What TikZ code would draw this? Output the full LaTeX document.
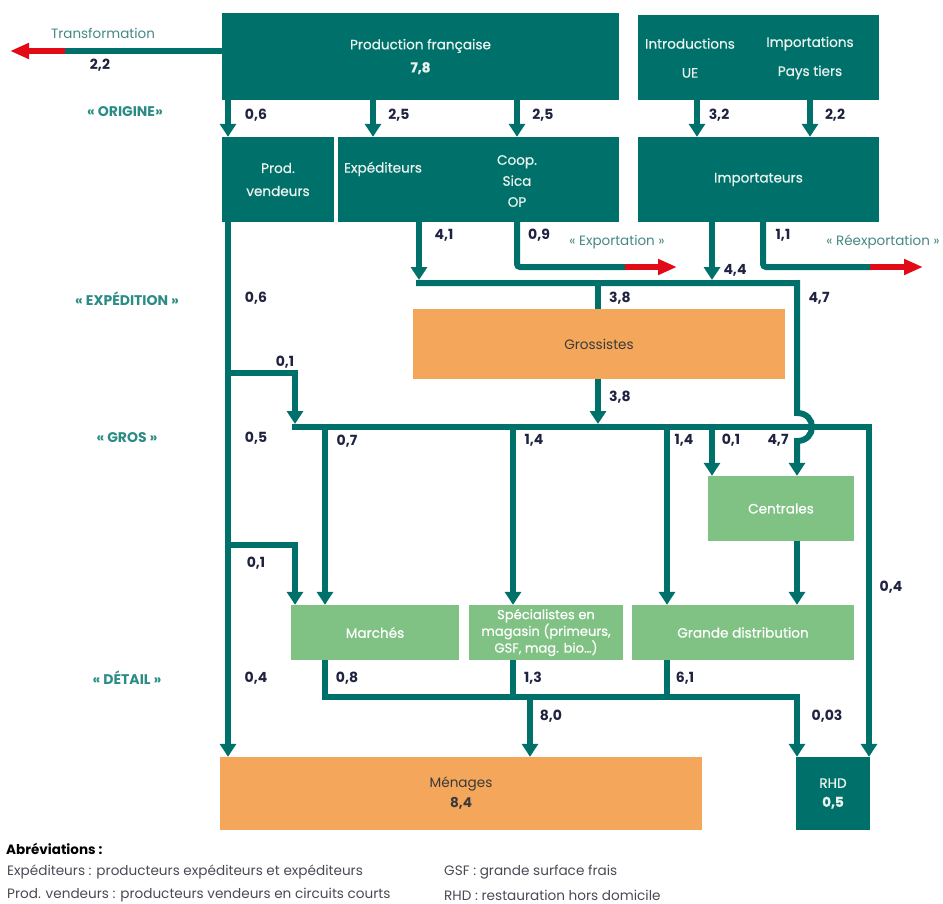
\documentclass[tikz,border=0pt]{standalone}
\usepackage{fontspec}
\setmainfont{Poppins}
\newfontfamily\pmed{Poppins}[FakeBold=0.6]
\usetikzlibrary{arrows.meta}
\definecolor{tealA}{HTML}{00716A}
\definecolor{lgreen}{HTML}{80C184}
\definecolor{orangeA}{HTML}{F4A65A}
\definecolor{redA}{HTML}{E30A17}
\definecolor{navyA}{HTML}{1F2340}
\definecolor{secteal}{HTML}{2B8C86}
\definecolor{boxtxt}{HTML}{EAF2EE}
\definecolor{darktxt}{HTML}{3A3A3A}
\definecolor{legtxt}{HTML}{4A4A55}
\begin{document}
\begin{tikzpicture}[x=1pt,y=-1pt,
  box/.style={rectangle, inner sep=0pt, draw=none, align=center},
  dk/.style={box, fill=tealA, text=boxtxt, font=\pmed\fontsize{13.6}{23}\selectfont},
  lg/.style={box, fill=lgreen, text=white, font=\pmed\fontsize{13.6}{15}\selectfont},
  og/.style={box, fill=orangeA, text=darktxt, font=\fontsize{13.6}{20}\selectfont},
  boxlab/.style={inner sep=0pt, align=center, text=boxtxt, font=\pmed\fontsize{13.6}{21}\selectfont},
  flow/.style={draw=tealA, line width=6pt},
  arr/.style={flow, -{Triangle[width=16pt,length=13pt]}},
  arrl/.style={arr, shorten >=3pt},
  redarr/.style={draw=redA, line width=6pt, -{Triangle[width=15pt,length=19pt]}},
  val/.style={inner sep=0pt, text=navyA, font=\bfseries\fontsize{14}{15}\selectfont},
  sec/.style={inner sep=0pt, text=secteal, font=\bfseries\fontsize{14}{15}\selectfont},
  note/.style={inner sep=0pt, text=secteal!70!gray, font=\fontsize{13.5}{15}\selectfont},
  leg/.style={inner sep=0pt, anchor=west, text=legtxt, font=\fontsize{13.6}{15}\selectfont},
]
\useasboundingbox (0,0) rectangle (943,903);

% ---------- boxes ----------
\node[dk, minimum width=397pt, minimum height=87pt] (prod) at (420.5,56.5) {Production française\\\textbf{7,8}};
\node[dk, minimum width=241pt, minimum height=85pt] (imp) at (758.5,57.5) {};
\node[boxlab, font=\pmed\fontsize{13.6}{29}\selectfont] (impUE) at (690,58) {Introductions\\UE};
\node[boxlab, font=\pmed\fontsize{13.6}{29}\selectfont] (impPT) at (810,58) {Importations\\Pays tiers};
\node[dk, minimum width=112pt, minimum height=85pt] (pv) at (278,179.5) {Prod.\\vendeurs};
\node[dk, minimum width=281pt, minimum height=85pt] (exp) at (478.5,179.5) {};
\node[boxlab] (expT) at (383,169) {Expéditeurs};
\node[boxlab] (coop) at (517,181) {Coop.\\Sica\\OP};
\node[dk, minimum width=241pt, minimum height=85pt] (impt) at (758.5,179.5) {Importateurs};
\node[og, minimum width=372pt, minimum height=70pt] (gross) at (599,344) {Grossistes};
\node[lg, minimum width=146pt, minimum height=65pt] (cent) at (781,508.5) {Centrales};
\node[lg, minimum width=168pt, minimum height=55pt] (march) at (375,632.5) {Marchés};
\node[lg, minimum width=154pt, minimum height=55pt, font=\pmed\fontsize{13.1}{14.5}\selectfont] (spec) at (546,632.5) {Spécialistes en\\magasin (primeurs,\\GSF, mag. bio…)};
\node[lg, minimum width=222pt, minimum height=55pt] (gd) at (743,632.5) {Grande distribution};
\node[og, minimum width=482pt, minimum height=73pt] (men) at (461,793.5) {Ménages\\\textbf{8,4}};
\node[dk, minimum width=74pt, minimum height=73pt, font=\pmed\fontsize{13.6}{19}\selectfont] (rhd) at (833,793.5) {RHD\\\textbf{0,5}};

% ---------- columns / rows ----------
\coordinate (cA) at (228,0);
\coordinate (cB) at (373,0);
\coordinate (cC) at (517,0);
\coordinate (cD) at (697,0);
\coordinate (cE) at (810,0);
\coordinate (cF) at (419,0);
\coordinate (cG) at (712,0);
\coordinate (cH) at (763,0);
\coordinate (cI) at (598,0);
\coordinate (cJ) at (797,0);
\coordinate (cK) at (295,0);
\coordinate (cL) at (325,0);
\coordinate (cM) at (513,0);
\coordinate (cN) at (667,0);
\coordinate (cO) at (869,0);
\coordinate (cP) at (530,0);
\coordinate (rX) at (0,267);
\coordinate (rExp) at (0,283);
\coordinate (r373) at (0,373);
\coordinate (rGros) at (0,427);
\coordinate (r545) at (0,545);
\coordinate (rBot) at (0,697);
\coordinate (trA) at (65,51);
\coordinate (trB) at (10,51);
\coordinate (xr1) at (625,267);
\coordinate (xr2) at (677,267);
\coordinate (xr3) at (870,267);
\coordinate (xr4) at (923,267);
\coordinate (e0) at (416,283);
\coordinate (g0) at (292,427);
\coordinate (b1) at (797,413);
\coordinate (b1c) at (817,413);
\coordinate (b2c) at (817,441);
\coordinate (b2) at (797,441);

% ---------- connectors ----------
% transformation
\draw[flow] ([yshift=5.5pt]prod.west) -- ([xshift=-1pt]trA);
\draw[redarr] (trA) -- (trB);
% origine
\draw[arr] (prod.south -| cA) -- (pv.north -| cA);
\draw[arr] (prod.south -| cB) -- (exp.north -| cB);
\draw[arr] (prod.south -| cC) -- (exp.north -| cC);
\draw[arr] (imp.south -| cD) -- (impt.north -| cD);
\draw[arr] (imp.south -| cE) -- (impt.north -| cE);
% exportations
\draw[flow, rounded corners=3pt] (exp.south -| cC) -- (cC |- rX) -- ([xshift=1pt]xr1);
\draw[redarr] (xr1) -- (xr2);
\draw[flow, rounded corners=3pt] (impt.south -| cH) -- (cH |- rX) -- ([xshift=1pt]xr3);
\draw[redarr] (xr3) -- (xr4);
% expedition line
\draw[arrl] (exp.south -| cF) -- (cF |- rExp);
\draw[arrl] (impt.south -| cG) -- (cG |- rExp);
\draw[arr] (e0) -- (cJ |- rExp) -- (b1) .. controls (b1c) and (b2c) .. (b2) -- (cent.north -| cJ);
\draw[flow] (cI |- rExp) -- (gross.north -| cI);
% gros line
\draw[arrl] (gross.south -| cI) -- (cI |- rGros);
\draw[arr] (g0) -- (cO |- rGros) -- (rhd.north -| cO);
% prod. vendeurs
\draw[arr] (pv.south -| cA) -- (men.north -| cA);
\draw[arrl] (cA |- r373) -- (cK |- r373) -- (cK |- rGros);
\draw[arr] (cA |- r545) -- (cK |- r545) -- (march.north -| cK);
% gros -> detail
\draw[arr] (cL |- rGros) -- (march.north -| cL);
\draw[arr] (cM |- rGros) -- (spec.north -| cM);
\draw[arr] (cN |- rGros) -- (gd.north -| cN);
\draw[arr] (cG |- rGros) -- (cent.north -| cG);
\draw[arr] (cent.south -| cJ) -- (gd.north -| cJ);
% detail -> consumers
\draw[arr] (march.south -| cL) -- (cL |- rBot) -- (cJ |- rBot) -- (rhd.north -| cJ);
\draw[flow] (spec.south -| cM) -- (cM |- rBot);
\draw[flow] (gd.south -| cN) -- (cN |- rBot);
\draw[arr] (cP |- rBot) -- (men.north -| cP);

% ---------- values ----------
\node[val] (v01) at (100,65) {2,2};
\node[val] (v02) at (256,115) {0,6};
\node[val] (v03) at (399,115) {2,5};
\node[val] (v04) at (543,115) {2,5};
\node[val] (v05) at (719,115) {3,2};
\node[val] (v06) at (835,115) {2,2};
\node[val] (v07) at (444,235) {4,1};
\node[val] (v08) at (539,235) {0,9};
\node[val] (v09) at (783,235) {1,1};
\node[val] (v10) at (735,270) {4,4};
\node[val] (v11) at (256,298) {0,6};
\node[val] (v12) at (620,298) {3,8};
\node[val] (v13) at (819,298) {4,7};
\node[val] (v14) at (285,362) {0,1};
\node[val] (v15) at (620,397) {3,8};
\node[val] (v16) at (256,438) {0,5};
\node[val] (v17) at (347,441) {0,7};
\node[val] (v18) at (534,440) {1,4};
\node[val] (v19) at (684,440) {1,4};
\node[val] (v20) at (731,440) {0,1};
\node[val] (v21) at (778,440) {4,7};
\node[val] (v22) at (256,563) {0,1};
\node[val] (v23) at (891,587) {0,4};
\node[val] (v24) at (256,678) {0,4};
\node[val] (v25) at (347,678) {0,8};
\node[val] (v26) at (533,678) {1,3};
\node[val] (v27) at (685,678) {6,1};
\node[val] (v28) at (551,716) {8,0};
\node[val] (v29) at (827,716) {0,03};

% ---------- section labels ----------
\node[sec] (sOr) at (125,112) {« ORIGINE»};
\node[sec] (sEx) at (127,299) {« EXPÉDITION »};
\node[sec] (sGr) at (127,438) {« GROS »};
\node[sec] (sDe) at (127,678) {« DÉTAIL »};
\node[note] (nTr) at (103,33) {Transformation};
\node[note] (nEx) at (617,242) {« Exportation »};
\node[note] (nRe) at (883,242) {« Réexportation »};

% ---------- legend ----------
\node[leg, text=black, font=\bfseries\fontsize{13.5}{15}\selectfont] (l0) at (6,849) {Abréviations :};
\node[leg] (l1) at (7,872) {Expéditeurs : producteurs expéditeurs et expéditeurs};
\node[leg] (l2) at (7,895) {Prod. vendeurs : producteurs vendeurs en circuits courts};
\node[leg] (l3) at (444,872) {GSF : grande surface frais};
\node[leg] (l4) at (444,895) {RHD : restauration hors domicile};
\end{tikzpicture}
\end{document}
